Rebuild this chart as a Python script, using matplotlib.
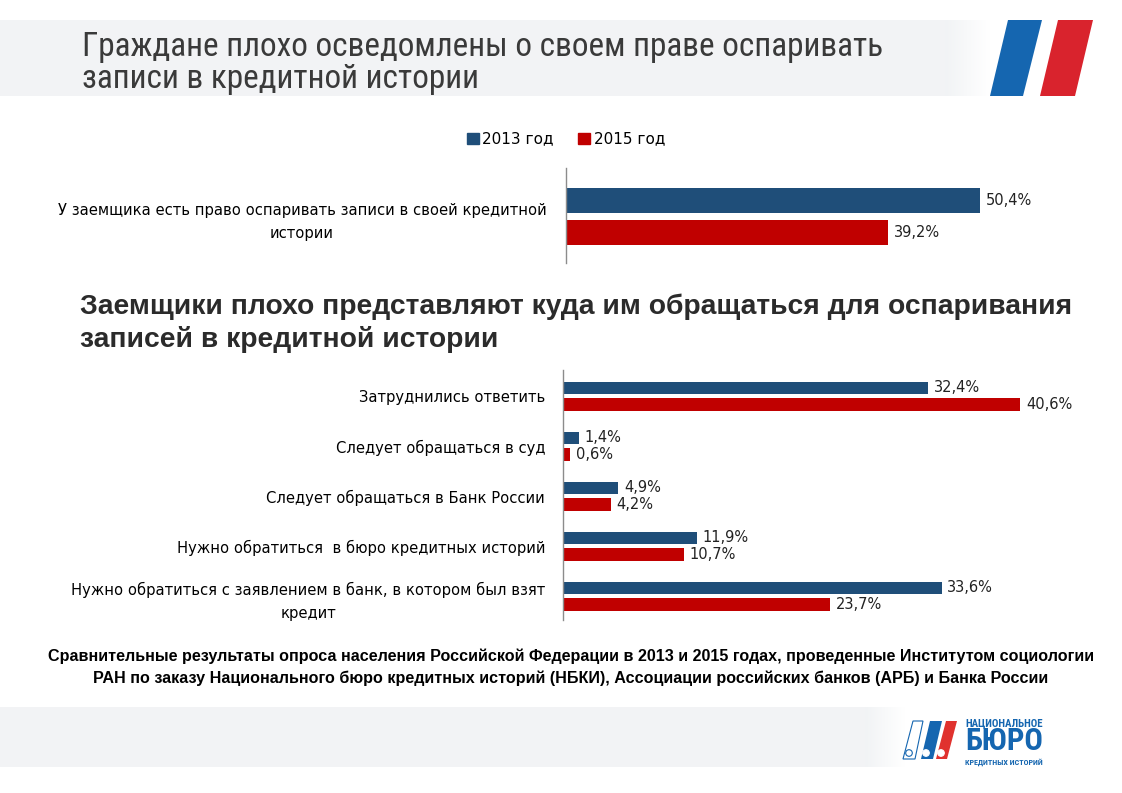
import numpy as np
import matplotlib
matplotlib.use("Agg")
import matplotlib.pyplot as plt
from matplotlib import font_manager
from matplotlib.patches import Rectangle, Polygon, Circle, Patch

# === DATA ===
top_categories = ["У заемщика есть право оспаривать записи в своей кредитной\nистории"]
top_2013 = [50.4]
top_2015 = [39.2]

bottom_categories = [
    "Затруднились ответить",
    "Следует обращаться в суд",
    "Следует обращаться в Банк России",
    "Нужно обратиться  в бюро кредитных историй",
    "Нужно обратиться с заявлением в банк, в котором был взят\nкредит",
]
bottom_2013 = [32.4, 1.4, 4.9, 11.9, 33.6]
bottom_2015 = [40.6, 0.6, 4.2, 10.7, 23.7]

series_names = ["2013 год", "2015 год"]

title_top = ["Граждане плохо осведомлены о своем праве оспаривать",
             "записи в кредитной истории"]
title_mid = ["Заемщики плохо представляют куда им обращаться для оспаривания",
             "записей в кредитной истории"]
footnote = ["Сравнительные результаты опроса населения Российской Федерации в 2013 и 2015 годах, проведенные Институтом социологии",
            "РАН по заказу Национального бюро кредитных историй (НБКИ), Ассоциации российских банков (АРБ) и Банка России"]

# === STYLE ===
W, H = 1122, 793
C13 = "#1F4E79"
C15 = "#C00000"
ARIAL = ["Liberation Sans", "DejaVu Sans"]

installed = {f.name for f in font_manager.fontManager.ttflist}
narrow = "Liberation Sans"
for cand in ["Liberation Sans Narrow", "Roboto Condensed", "DejaVu Sans Condensed",
             "Open Sans Condensed", "Noto Sans Condensed"]:
    if cand in installed:
        narrow = cand
        break
NARROW = [narrow, "DejaVu Sans"]

fig = plt.figure(figsize=(W / 100, H / 100), dpi=100)
fig.patch.set_facecolor("white")
renderer = fig.canvas.get_renderer()


def fit_width(t, width_px):
    bb = t.get_window_extent(renderer)
    t.set_fontsize(t.get_fontsize() * width_px / bb.width)
    return t.get_fontsize()


# background / decoration layer in pixel coords
bg = fig.add_axes([0, 0, 1, 1], zorder=0)
bg.axis("off")


def faded_band(x0, x1, fade, y0, y1, color=(0.949, 0.953, 0.961)):
    bg.add_patch(Rectangle((x0, y0), x1 - fade - x0, y1 - y0, color=color, lw=0))
    grad = np.ones((2, 64, 4))
    grad[..., :3] = color
    grad[..., 3] = np.linspace(1, 0, 64)[None, :]
    bg.imshow(grad, extent=(x1 - fade, x1, y1, y0), aspect="auto", interpolation="bilinear")


faded_band(0, 990, 45, 20, 96)
faded_band(0, 905, 40, 707, 767)
bg.set_xlim(0, W)
bg.set_ylim(H, 0)

# header stripes
bg.add_patch(Polygon([(1008, 20), (1042, 20), (1023, 96), (990, 96)], color="#1566B0", lw=0))
bg.add_patch(Polygon([(1058, 20), (1093, 20), (1075, 96), (1040, 96)], color="#D9232D", lw=0))

# titles
t1 = bg.text(82, 56, title_top[0], fontsize=24, family=NARROW, color="#3A3A3A", va="baseline")
fs = fit_width(t1, 804)
bg.text(82, 88, title_top[1], fontsize=fs, family=NARROW, color="#3A3A3A", va="baseline")

t2 = bg.text(80, 314, title_mid[0], fontsize=20, family=ARIAL, weight="bold",
             color="#2B2B2B", va="baseline")
fs = fit_width(t2, 988)
bg.text(80, 347, title_mid[1], fontsize=fs, family=ARIAL, weight="bold",
        color="#2B2B2B", va="baseline")

# footnote
f1 = bg.text(571, 656, footnote[0], fontsize=11, family=ARIAL, weight="bold",
             ha="center", va="center", color="black")
fs = fit_width(f1, 1048)
bg.text(571, 678, footnote[1], fontsize=fs, family=ARIAL, weight="bold",
        ha="center", va="center", color="black")

# logo
bg.add_patch(Polygon([(913, 721), (923, 721), (915, 759), (903, 759)], fc="white", ec="#1566B0", lw=0.8))
bg.add_patch(Polygon([(930, 721), (942, 721), (933, 759), (921, 759)], color="#1566B0", lw=0))
bg.add_patch(Polygon([(946, 721), (957, 721), (947, 759), (936, 759)], color="#E0322E", lw=0))
bg.add_patch(Circle((909, 753), 3.3, fc="white", ec="#1566B0", lw=0.8))
bg.add_patch(Circle((926, 753), 3.3, fc="white", ec="white", lw=0.8))
bg.add_patch(Circle((941, 753), 3.3, fc="white", ec="white", lw=0.8))
for txt, yy, size in [("НАЦИОНАЛЬНОЕ", 723, 6), ("БЮРО", 741, 22), ("КРЕДИТНЫХ ИСТОРИЙ", 762, 5)]:
    tl = bg.text(1004, yy, txt, fontsize=size, family=NARROW, weight="bold",
                 color="#1566B0", ha="center", va="center")
    fit_width(tl, 78)


def fmt(v):
    return f"{v:.1f}".replace(".", ",") + "%"


def bar_panel(left_px, top_px, bottom_px, right_px, px_per_unit, center_px, spacing_px,
              cats, v13, v15, off, height, pad):
    ax = fig.add_axes([left_px / W, 1 - bottom_px / H,
                       (right_px - left_px) / W, (bottom_px - top_px) / H], zorder=1)
    ax.patch.set_alpha(0)
    y = np.arange(len(cats))
    b1 = ax.barh(y - off, v13, height=height, color=C13)
    b2 = ax.barh(y + off, v15, height=height, color=C15)
    for bars, vals in [(b1, v13), (b2, v15)]:
        ax.bar_label(bars, labels=[fmt(v) for v in vals], padding=4,
                     fontsize=10.5, color="#222222")
    ax.set_xlim(0, (right_px - left_px) / px_per_unit)
    ax.set_ylim((bottom_px - center_px) / spacing_px, (top_px - center_px) / spacing_px)
    ax.set_yticks(y)
    ax.set_yticklabels(cats, fontsize=10.6, multialignment="center", color="black",
                       linespacing=1.65)
    ax.tick_params(axis="y", length=0, pad=pad)
    ax.set_xticks([])
    for s in ["top", "right", "bottom"]:
        ax.spines[s].set_visible(False)
    ax.spines["left"].set_color("#8C8C8C")
    ax.spines["left"].set_linewidth(1)
    return ax


bar_panel(565.7, 168, 263, 1090, 8.22, 216.6, 62,
          top_categories, top_2013, top_2015, 0.255, 0.40, 14)
bar_panel(563.3, 370, 620, 1090, 11.26, 396.3, 50,
          bottom_categories, bottom_2013, bottom_2015, 0.166, 0.255, 13)

# legend
handles = [Patch(color=C13, label=series_names[0]), Patch(color=C15, label=series_names[1])]
fig.legend(handles=handles, loc="center", bbox_to_anchor=(566 / W, 1 - 139 / H), ncol=2,
           frameon=False, fontsize=11, handlelength=0.75, handleheight=0.75,
           handletextpad=0.25, columnspacing=1.6)

fig.savefig("out.png", dpi=100)
